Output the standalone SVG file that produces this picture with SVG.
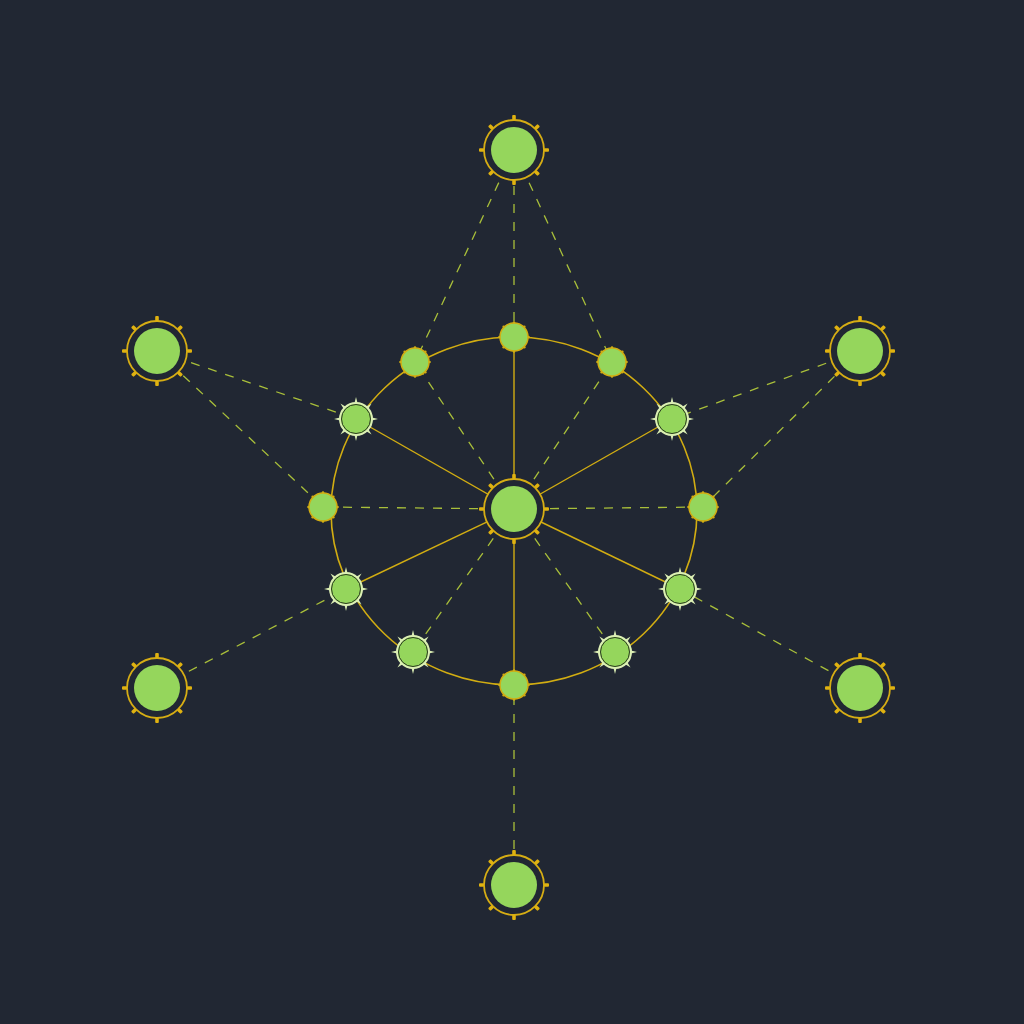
<svg xmlns="http://www.w3.org/2000/svg" xmlns:xlink="http://www.w3.org/1999/xlink" width="1024" height="1024" viewBox="0 0 1024 1024">
<style>
.solid{stroke:#d2ad12;stroke-width:1.4;fill:none}
.dash{stroke:#a9bf3a;stroke-width:1.3;stroke-dasharray:9 9;fill:none}
.ring{stroke:#d2ad12;stroke-width:1.6;fill:none}
.big{fill:#212733;stroke:#d6ad14;stroke-width:1.8}
.fill{fill:#95d65c}
.sp{fill:#95d65c;stroke:#dcefb4;stroke-width:2}
.spi{fill:none;stroke:#2a3a20;stroke-width:1}
.pl{fill:#95d65c;stroke:#d2ad12;stroke-width:1.5}
</style>
<defs>
<g id="tk" fill="#e0b210">
<rect x="-1.8" y="-35" width="3.6" height="5" rx="1"/>
<rect x="-1.8" y="-35" width="3.6" height="5" rx="1" transform="rotate(45)"/>
<rect x="-1.8" y="-35" width="3.6" height="5" rx="1" transform="rotate(90)"/>
<rect x="-1.8" y="-35" width="3.6" height="5" rx="1" transform="rotate(135)"/>
<rect x="-1.8" y="-35" width="3.6" height="5" rx="1" transform="rotate(180)"/>
<rect x="-1.8" y="-35" width="3.6" height="5" rx="1" transform="rotate(225)"/>
<rect x="-1.8" y="-35" width="3.6" height="5" rx="1" transform="rotate(270)"/>
<rect x="-1.8" y="-35" width="3.6" height="5" rx="1" transform="rotate(315)"/>
</g>
<g id="big">
<circle r="30" class="big"/>
<circle r="23" class="fill"/>
<use xlink:href="#tk"/>
</g>
<g id="spk" fill="#dcefb4">
<path d="M-1.5,-16 L0,-22 L1.5,-16Z"/>
<path d="M-1.5,-16 L0,-22 L1.5,-16Z" transform="rotate(45)"/>
<path d="M-1.5,-16 L0,-22 L1.5,-16Z" transform="rotate(90)"/>
<path d="M-1.5,-16 L0,-22 L1.5,-16Z" transform="rotate(135)"/>
<path d="M-1.5,-16 L0,-22 L1.5,-16Z" transform="rotate(180)"/>
<path d="M-1.5,-16 L0,-22 L1.5,-16Z" transform="rotate(225)"/>
<path d="M-1.5,-16 L0,-22 L1.5,-16Z" transform="rotate(270)"/>
<path d="M-1.5,-16 L0,-22 L1.5,-16Z" transform="rotate(315)"/>
<circle r="16" class="sp"/>
<circle r="14.5" class="spi"/>
</g>
<g id="pln" fill="#d2ad12">
<circle cx="0" cy="-14.5" r="1.3"/>
<circle cx="10.3" cy="-10.3" r="1.3"/>
<circle cx="14.5" cy="0" r="1.3"/>
<circle cx="10.3" cy="10.3" r="1.3"/>
<circle cx="0" cy="14.5" r="1.3"/>
<circle cx="-10.3" cy="10.3" r="1.3"/>
<circle cx="-14.5" cy="0" r="1.3"/>
<circle cx="-10.3" cy="-10.3" r="1.3"/>
<circle r="14" class="pl"/>
</g>
</defs>
<rect width="1024" height="1024" fill="#212733"/>
<g id="connectors">
<ellipse cx="514" cy="511" rx="183" ry="174" class="ring"/>
<line x1="514" y1="509" x2="514" y2="337" class="solid"/>
<line x1="514" y1="509" x2="514" y2="685" class="solid"/>
<line x1="514" y1="509" x2="356" y2="419" class="solid"/>
<line x1="514" y1="509" x2="672" y2="419" class="solid"/>
<line x1="514" y1="509" x2="346" y2="589" class="solid"/>
<line x1="514" y1="509" x2="680" y2="589" class="solid"/>
<line x1="514" y1="509" x2="415" y2="362" class="dash"/>
<line x1="514" y1="509" x2="612" y2="362" class="dash"/>
<line x1="514" y1="509" x2="323" y2="507" class="dash"/>
<line x1="514" y1="509" x2="703" y2="507" class="dash"/>
<line x1="514" y1="509" x2="413" y2="652" class="dash"/>
<line x1="514" y1="509" x2="615" y2="652" class="dash"/>
<line x1="514" y1="150" x2="514" y2="337" class="dash"/>
<line x1="514" y1="150" x2="415" y2="362" class="dash"/>
<line x1="514" y1="150" x2="612" y2="362" class="dash"/>
<line x1="157" y1="351" x2="356" y2="419" class="dash"/>
<line x1="157" y1="351" x2="323" y2="507" class="dash"/>
<line x1="860" y1="351" x2="672" y2="419" class="dash"/>
<line x1="860" y1="351" x2="703" y2="507" class="dash"/>
<line x1="157" y1="688" x2="346" y2="589" class="dash"/>
<line x1="860" y1="688" x2="680" y2="589" class="dash"/>
<line x1="514" y1="885" x2="514" y2="685" class="dash"/>
</g>
<g id="n-top"><use xlink:href="#big" x="514" y="150"/></g>
<g id="n-ul"><use xlink:href="#big" x="157" y="351"/></g>
<g id="n-ur"><use xlink:href="#big" x="860" y="351"/></g>
<g id="n-ll"><use xlink:href="#big" x="157" y="688"/></g>
<g id="n-lr"><use xlink:href="#big" x="860" y="688"/></g>
<g id="n-bottom"><use xlink:href="#big" x="514" y="885"/></g>
<g id="n-center"><use xlink:href="#big" x="514" y="509"/></g>
<g id="r1"><use xlink:href="#pln" x="514" y="337"/></g>
<g id="r2"><use xlink:href="#pln" x="415" y="362"/></g>
<g id="r3"><use xlink:href="#pln" x="612" y="362"/></g>
<g id="r4"><use xlink:href="#spk" x="356" y="419"/></g>
<g id="r5"><use xlink:href="#spk" x="672" y="419"/></g>
<g id="r6"><use xlink:href="#pln" x="323" y="507"/></g>
<g id="r7"><use xlink:href="#pln" x="703" y="507"/></g>
<g id="r8"><use xlink:href="#spk" x="346" y="589"/></g>
<g id="r9"><use xlink:href="#spk" x="680" y="589"/></g>
<g id="r10"><use xlink:href="#spk" x="413" y="652"/></g>
<g id="r11"><use xlink:href="#spk" x="615" y="652"/></g>
<g id="r12"><use xlink:href="#pln" x="514" y="685"/></g>
</svg>
